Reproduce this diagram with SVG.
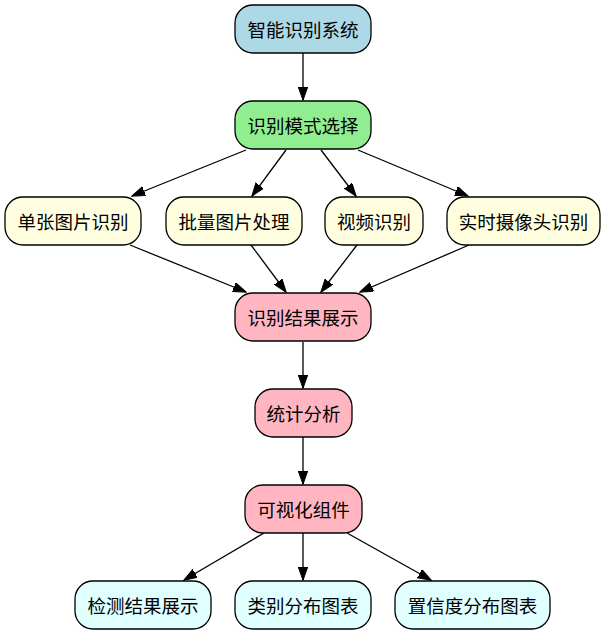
<svg xmlns="http://www.w3.org/2000/svg" width="605" height="635" viewBox="0 0 605 635">
<defs>
<style>
.n rect{stroke:#000;stroke-width:1.3}
.n text{font-family:"Noto Sans CJK SC","Noto Sans",sans-serif;font-size:18.5px;fill:#000;text-anchor:middle;dominant-baseline:central}
.e line{stroke:#000;stroke-width:1.3;marker-end:url(#ah)}
.blue{fill:#add8e6}.green{fill:#90ee90}.yellow{fill:#ffffe0}.pink{fill:#ffb6c1}.cyan{fill:#e0ffff}
</style>
<marker id="ah" markerUnits="userSpaceOnUse" markerWidth="14" markerHeight="10" refX="13" refY="4.7" orient="auto">
<path d="M0,0 L13.3,4.7 L0,9.4 z" fill="#000" stroke="#000" stroke-width="1"/>
</marker>
</defs>
<rect width="605" height="635" fill="#fff"/>
<g class="e" id="edges">
<line x1="303" y1="53" x2="303" y2="100"/>
<line x1="246" y1="150" x2="132" y2="196"/>
<line x1="286" y1="150" x2="252" y2="196"/>
<line x1="321" y1="150" x2="356" y2="196"/>
<line x1="358" y1="150" x2="468" y2="196"/>
<line x1="130" y1="245" x2="246" y2="292"/>
<line x1="251" y1="245" x2="286" y2="292"/>
<line x1="357" y1="245" x2="321" y2="292"/>
<line x1="469" y1="245" x2="360" y2="292"/>
<line x1="303" y1="342" x2="303" y2="388"/>
<line x1="303" y1="437" x2="303" y2="484"/>
<line x1="264" y1="533" x2="184" y2="580"/>
<line x1="303" y1="533" x2="303" y2="580"/>
<line x1="347" y1="533" x2="431" y2="580"/>
</g>
<g class="n" id="n1"><rect class="blue" x="235" y="5" width="136" height="48" rx="18"/><text x="303" y="29">智能识别系统</text></g>
<g class="n" id="n2"><rect class="green" x="235" y="101" width="136" height="48" rx="18"/><text x="303" y="125">识别模式选择</text></g>
<g class="n" id="n3"><rect class="yellow" x="5" y="197" width="136" height="48" rx="18"/><text x="73" y="221">单张图片识别</text></g>
<g class="n" id="n4"><rect class="yellow" x="166" y="197" width="136" height="48" rx="18"/><text x="234" y="221">批量图片处理</text></g>
<g class="n" id="n5"><rect class="yellow" x="325" y="197" width="98" height="48" rx="18"/><text x="374" y="221">视频识别</text></g>
<g class="n" id="n6"><rect class="yellow" x="447" y="197" width="153" height="48" rx="18"/><text x="523.5" y="221">实时摄像头识别</text></g>
<g class="n" id="n7"><rect class="pink" x="235" y="293" width="136" height="48" rx="18"/><text x="303" y="317">识别结果展示</text></g>
<g class="n" id="n8"><rect class="pink" x="255" y="389" width="97" height="48" rx="18"/><text x="303.5" y="413">统计分析</text></g>
<g class="n" id="n9"><rect class="pink" x="245" y="485" width="117" height="48" rx="18"/><text x="303.5" y="509">可视化组件</text></g>
<g class="n" id="n10"><rect class="cyan" x="75" y="581" width="136" height="48" rx="18"/><text x="143" y="605">检测结果展示</text></g>
<g class="n" id="n11"><rect class="cyan" x="235" y="581" width="136" height="48" rx="18"/><text x="303" y="605">类别分布图表</text></g>
<g class="n" id="n12"><rect class="cyan" x="395" y="581" width="155" height="48" rx="18"/><text x="472.5" y="605">置信度分布图表</text></g>
</svg>
